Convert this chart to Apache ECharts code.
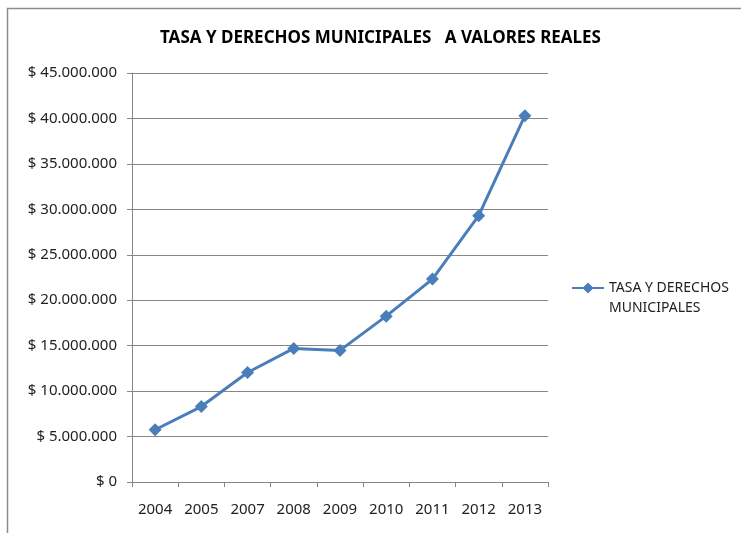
<!DOCTYPE html>
<html>
<head>
<meta charset="utf-8">
<script src="https://cdn.jsdelivr.net/npm/echarts@6/dist/echarts.min.js"></script>
<style>
  html, body { margin: 0; padding: 0; background: #fff; }
  #grafica { width: 741px; height: 533px; }
</style>
</head>
<body>
<div id="grafica"></div>
<script>
var anios = ["2004", "2005", "2007", "2008", "2009", "2010", "2011", "2012", "2013"];
var tasaValores = [5750000, 8300000, 12050000, 14700000, 14480000, 18250000, 22330000, 29300000, 40300000];
var nombreSerie = "TASA Y DERECHOS MUNICIPALES";
var titulo = "TASA Y DERECHOS MUNICIPALES   A VALORES REALES";

var fuente = "'Noto Sans', 'DejaVu Sans', sans-serif";
var gris = "#868686";

function formatoPesos(v) {
  return "$ " + String(v).replace(/\B(?=(\d{3})+(?!\d))/g, ".");
}

var chart = echarts.init(document.getElementById("grafica"));
var option = {
  backgroundColor: "#fff",
  animation: false,
  graphic: [
    {
      type: "rect",
      shape: { x: 7.5, y: 8.5, width: 900, height: 700 },
      style: { fill: "none", stroke: "#8c8c8c", lineWidth: 1.5 },
      silent: true
    }
  ],
  title: {
    text: titulo,
    left: 155,
    top: 25,
    textStyle: { fontFamily: fuente, fontWeight: "bold", fontSize: 17, color: "#000" }
  },
  legend: {
    left: 566,
    top: 253,
    orient: "vertical",
    itemWidth: 32,
    itemHeight: 14,
    // linea vacia arriba para que el icono quede alineado con la primera linea
    formatter: function () { return " \nTASA Y DERECHOS\nMUNICIPALES"; },
    textStyle: {
      fontFamily: fuente,
      fontSize: 14,
      color: "#222",
      lineHeight: 20
    }
  },
  grid: { left: 132, right: 193, top: 73, bottom: 51, containLabel: false },
  xAxis: {
    type: "category",
    data: anios,
    boundaryGap: true,
    axisLine: { lineStyle: { color: gris, width: 1 } },
    axisTick: { show: true, length: 5, alignWithLabel: false, lineStyle: { color: gris } },
    axisLabel: { fontFamily: fuente, fontSize: 15, color: "#222", margin: 20 }
  },
  yAxis: {
    type: "value",
    min: 0,
    max: 45000000,
    interval: 5000000,
    axisLine: { show: true, lineStyle: { color: gris, width: 1 } },
    axisTick: { show: true, length: 5, lineStyle: { color: gris } },
    axisLabel: {
      fontFamily: fuente,
      fontSize: 15,
      color: "#222",
      margin: 15,
      formatter: formatoPesos
    },
    splitLine: { show: true, lineStyle: { color: gris, width: 1 } }
  },
  series: [
    {
      name: nombreSerie,
      type: "line",
      data: tasaValores,
      symbol: "diamond",
      symbolSize: 13,
      lineStyle: { color: "#4a7ebb", width: 3 },
      itemStyle: { color: "#4a7ebb" }
    }
  ]
};
chart.setOption(option);
</script>
</body>
</html>
